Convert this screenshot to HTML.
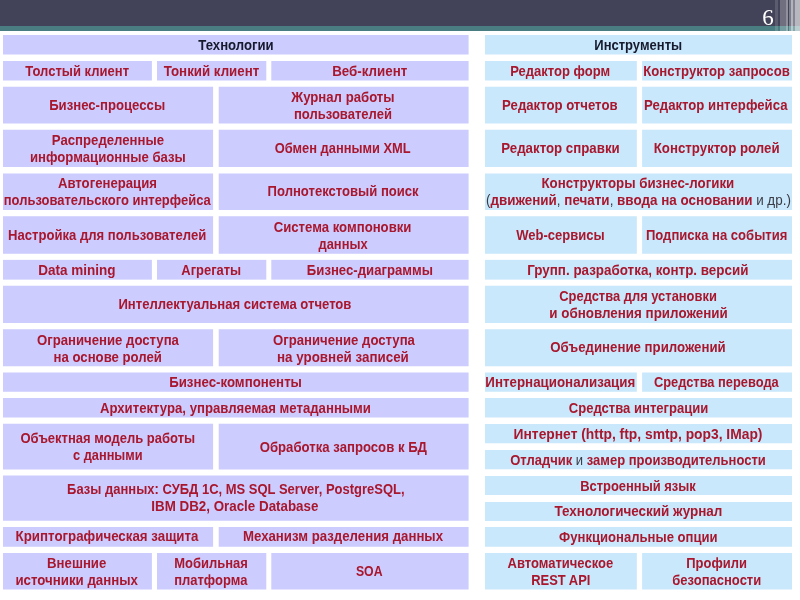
<!DOCTYPE html>
<html lang="ru"><head><meta charset="utf-8"><title>Слайд 6</title>
<style>
html,body{margin:0;padding:0;background:#fff}
body{width:800px;height:600px;position:relative;overflow:hidden;font-family:"Liberation Sans",sans-serif}
#w{position:absolute;left:0;top:0;width:800px;height:600px;will-change:transform}
#top{position:absolute;left:-6px;top:-6px;width:812px;height:32px;background:#424258}
#teal{position:absolute;left:-6px;top:26px;width:812px;height:5px;background:#4a7d82}
.s{position:absolute;top:-6px;height:37px}
#bg{position:absolute;left:0;top:0}
#num{position:absolute;left:755px;top:5px;width:26px;text-align:center;color:#fff;font:23px/26px "Liberation Serif",serif}
.c{position:absolute;display:flex;flex-direction:column;justify-content:center;align-items:center;
   font-weight:bold;font-size:15px;line-height:17px;color:#a8172d;white-space:nowrap;overflow:visible;box-sizing:border-box;padding-bottom:2px}
.c span{display:block;transform-origin:50% 50%}
.c.h{color:#161a2c}
.c i{font-style:normal;font-weight:normal;color:#3a3a44}
</style></head>
<body>
<div id="w">
<div id="top"></div><div id="teal"></div><div class="s" style="left:775px;width:3px;background:rgba(255,255,255,.14)"></div><div class="s" style="left:779.5px;width:6px;background:rgba(255,255,255,.24)"></div><div class="s" style="left:785.5px;width:2.5px;background:rgba(255,255,255,.42)"></div><div class="s" style="left:789px;width:2px;background:rgba(255,255,255,.30)"></div><div class="s" style="left:791px;width:2px;background:rgba(255,255,255,.60)"></div><div class="s" style="left:793px;width:2px;background:rgba(255,255,255,.35)"></div><div class="s" style="left:795px;width:11px;background:rgba(255,255,255,.62)"></div>
<div id="num">6</div>
<svg id="bg" width="800" height="600" viewBox="0 0 800 600"><rect x="3" y="35" width="465.6" height="19.5" fill="#ccccff"/><rect x="3" y="61" width="148.9" height="19.5" fill="#ccccff"/><rect x="157" y="61" width="109.3" height="19.5" fill="#ccccff"/><rect x="271.3" y="61" width="197.3" height="19.5" fill="#ccccff"/><rect x="3" y="86.75" width="210.1" height="36.75" fill="#ccccff"/><rect x="218.7" y="86.75" width="249.9" height="36.75" fill="#ccccff"/><rect x="3" y="129.75" width="210.1" height="37.25" fill="#ccccff"/><rect x="218.7" y="129.75" width="249.9" height="37.25" fill="#ccccff"/><rect x="3" y="173.5" width="210.1" height="36.5" fill="#ccccff"/><rect x="218.7" y="173.5" width="249.9" height="36.5" fill="#ccccff"/><rect x="3" y="216.25" width="210.1" height="37.5" fill="#ccccff"/><rect x="218.7" y="216.25" width="249.9" height="37.5" fill="#ccccff"/><rect x="3" y="259.85" width="148.9" height="19.8" fill="#ccccff"/><rect x="157" y="259.85" width="109.3" height="19.8" fill="#ccccff"/><rect x="271.3" y="259.85" width="197.3" height="19.8" fill="#ccccff"/><rect x="3" y="285.75" width="465.6" height="37.25" fill="#ccccff"/><rect x="3" y="329.25" width="210.1" height="37" fill="#ccccff"/><rect x="218.7" y="329.25" width="249.9" height="37" fill="#ccccff"/><rect x="3" y="372.5" width="465.6" height="19.25" fill="#ccccff"/><rect x="3" y="398" width="465.6" height="19.5" fill="#ccccff"/><rect x="3" y="423.75" width="210.1" height="45.75" fill="#ccccff"/><rect x="218.7" y="423.75" width="249.9" height="45.75" fill="#ccccff"/><rect x="3" y="475.5" width="465.6" height="45.25" fill="#ccccff"/><rect x="3" y="527" width="210.1" height="19.75" fill="#ccccff"/><rect x="218.7" y="527" width="249.9" height="19.75" fill="#ccccff"/><rect x="3" y="553" width="148.9" height="36.5" fill="#ccccff"/><rect x="157" y="553" width="109.3" height="36.5" fill="#ccccff"/><rect x="271.3" y="553" width="197.3" height="36.5" fill="#ccccff"/><rect x="485" y="35" width="307" height="19.5" fill="#c9e8fc"/><rect x="485" y="61" width="151.8" height="19.5" fill="#c9e8fc"/><rect x="642.1" y="61" width="149.9" height="19.5" fill="#c9e8fc"/><rect x="485" y="86.75" width="151.8" height="36.75" fill="#c9e8fc"/><rect x="642.1" y="86.75" width="149.9" height="36.75" fill="#c9e8fc"/><rect x="485" y="129.75" width="151.8" height="37.25" fill="#c9e8fc"/><rect x="642.1" y="129.75" width="149.9" height="37.25" fill="#c9e8fc"/><rect x="485" y="173.5" width="307" height="36.5" fill="#c9e8fc"/><rect x="485" y="216.25" width="151.8" height="37.5" fill="#c9e8fc"/><rect x="642.1" y="216.25" width="149.9" height="37.5" fill="#c9e8fc"/><rect x="485" y="259.85" width="307" height="19.8" fill="#c9e8fc"/><rect x="485" y="285.75" width="307" height="37.25" fill="#c9e8fc"/><rect x="485" y="329.25" width="307" height="37" fill="#c9e8fc"/><rect x="485" y="372.5" width="151.8" height="19.25" fill="#c9e8fc"/><rect x="642.1" y="372.5" width="149.9" height="19.25" fill="#c9e8fc"/><rect x="485" y="398" width="307" height="19.5" fill="#c9e8fc"/><rect x="485" y="424" width="307" height="19.25" fill="#c9e8fc"/><rect x="485" y="450" width="307" height="19.25" fill="#c9e8fc"/><rect x="485" y="476" width="307" height="19" fill="#c9e8fc"/><rect x="485" y="502" width="307" height="19" fill="#c9e8fc"/><rect x="485" y="527" width="307" height="19.75" fill="#c9e8fc"/><rect x="485" y="553" width="151.8" height="36.5" fill="#c9e8fc"/><rect x="642.1" y="553" width="149.9" height="36.5" fill="#c9e8fc"/></svg>
<div class="c h" style="left:3px;top:35px;width:466px;height:19px"><span style="transform:translate(0.03px,1px) scaleX(0.8770)">Технологии</span></div>
<div class="c" style="left:3px;top:61px;width:149px;height:19px"><span style="transform:translate(-0.50px,1px) scaleX(0.8686)">Толстый клиент</span></div>
<div class="c" style="left:157px;top:61px;width:109px;height:19px"><span style="transform:translate(-0.40px,1px) scaleX(0.8867)">Тонкий клиент</span></div>
<div class="c" style="left:271px;top:61px;width:198px;height:19px"><span style="transform:translate(-0.50px,1px) scaleX(0.8895)">Веб-клиент</span></div>
<div class="c" style="left:3px;top:87px;width:210px;height:37px"><span style="transform:translate(-1.00px,0px) scaleX(0.8770)">Бизнес-процессы</span></div>
<div class="c" style="left:219px;top:87px;width:250px;height:37px"><span style="transform:translate(-0.94px,0px) scaleX(0.8775)">Журнал работы</span><span style="transform:translate(-1.46px,0px) scaleX(0.8684)">пользователей</span></div>
<div class="c" style="left:3px;top:130px;width:210px;height:37px"><span style="transform:scaleX(0.8775)">Распределенные</span><span style="transform:scaleX(0.8770)">информационные базы</span></div>
<div class="c" style="left:219px;top:130px;width:250px;height:37px"><span style="transform:translate(-1.46px,0px) scaleX(0.8584)">Обмен данными XML</span></div>
<div class="c" style="left:3px;top:174px;width:210px;height:36px"><span style="transform:translate(-1.00px,0px) scaleX(0.8770)">Автогенерация</span><span style="transform:translate(-0.44px,0px) scaleX(0.8649)">пользовательского интерфейса</span></div>
<div class="c" style="left:219px;top:174px;width:250px;height:36px"><span style="transform:translate(-0.53px,-1px) scaleX(0.8717)">Полнотекстовый поиск</span></div>
<div class="c" style="left:3px;top:216px;width:210px;height:38px"><span style="transform:translate(-0.50px,0px) scaleX(0.8726)">Настройка для пользователей</span></div>
<div class="c" style="left:219px;top:216px;width:250px;height:38px"><span style="transform:translate(-1.00px,1px) scaleX(0.8770)">Система компоновки</span><span style="transform:translate(-0.50px,1px) scaleX(0.8595)">данных</span></div>
<div class="c" style="left:3px;top:260px;width:149px;height:20px"><span style="transform:translate(-1.00px,0px) scaleX(0.9002)">Data mining</span></div>
<div class="c" style="left:157px;top:260px;width:109px;height:20px"><span style="transform:translate(-0.44px,0px) scaleX(0.8641)">Агрегаты</span></div>
<div class="c" style="left:271px;top:260px;width:198px;height:20px"><span style="transform:scaleX(0.8770)">Бизнес-диаграммы</span></div>
<div class="c" style="left:3px;top:286px;width:466px;height:37px"><span style="transform:translate(-1.50px,0px) scaleX(0.8732)">Интеллектуальная система отчетов</span></div>
<div class="c" style="left:3px;top:329px;width:210px;height:37px"><span style="transform:translate(0.03px,1px) scaleX(0.8769)">Ограничение доступа</span><span style="transform:translate(0.00px,1px) scaleX(0.8778)">на основе ролей</span></div>
<div class="c" style="left:219px;top:329px;width:250px;height:37px"><span style="transform:translate(0.03px,1px) scaleX(0.8769)">Ограничение доступа</span><span style="transform:translate(-1.00px,1px) scaleX(0.8912)">на уровней записей</span></div>
<div class="c" style="left:3px;top:372px;width:466px;height:20px"><span style="transform:translate(-0.54px,0px) scaleX(0.8838)">Бизнес-компоненты</span></div>
<div class="c" style="left:3px;top:398px;width:466px;height:20px"><span style="transform:translate(-1.00px,0px) scaleX(0.8775)">Архитектура, управляемая метаданными</span></div>
<div class="c" style="left:3px;top:424px;width:210px;height:46px"><span style="transform:scaleX(0.8670)">Объектная модель работы</span><span style="transform:scaleX(0.8528)">с данными</span></div>
<div class="c" style="left:219px;top:424px;width:250px;height:46px"><span style="transform:translate(-1.00px,0px) scaleX(0.8770)">Обработка запросов к БД</span></div>
<div class="c" style="left:3px;top:476px;width:466px;height:45px"><span style="transform:translate(0.04px,-1px) scaleX(0.8662)">Базы данных: СУБД 1С, MS SQL Server, PostgreSQL,</span><span style="transform:translate(-0.94px,-1px) scaleX(0.8910)">IBM DB2, Oracle Database</span></div>
<div class="c" style="left:3px;top:527px;width:210px;height:20px"><span style="transform:translate(-1.06px,-1px) scaleX(0.8872)">Криптографическая защита</span></div>
<div class="c" style="left:219px;top:527px;width:250px;height:20px"><span style="transform:translate(-1.50px,-1px) scaleX(0.8814)">Механизм разделения данных</span></div>
<div class="c" style="left:3px;top:553px;width:149px;height:37px"><span style="transform:translate(-1.00px,0px) scaleX(0.8779)">Внешние</span><span style="transform:translate(-0.55px,0px) scaleX(0.8844)">источники данных</span></div>
<div class="c" style="left:157px;top:553px;width:109px;height:37px"><span style="transform:translate(-0.50px,0px) scaleX(0.8656)">Мобильная</span><span style="transform:translate(-0.50px,0px) scaleX(0.8657)">платформа</span></div>
<div class="c" style="left:271px;top:553px;width:198px;height:37px"><span style="transform:translate(-1.04px,0px) scaleX(0.8189)">SOA</span></div>
<div class="c h" style="left:485px;top:35px;width:307px;height:19px"><span style="transform:translate(-0.44px,1px) scaleX(0.8669)">Инструменты</span></div>
<div class="c" style="left:485px;top:61px;width:152px;height:19px"><span style="transform:translate(-0.46px,1px) scaleX(0.8682)">Редактор форм</span></div>
<div class="c" style="left:642px;top:61px;width:150px;height:19px"><span style="transform:translate(0.00px,1px) scaleX(0.8770)">Конструктор запросов</span></div>
<div class="c" style="left:485px;top:87px;width:152px;height:37px"><span style="transform:translate(-0.94px,0px) scaleX(0.8775)">Редактор отчетов</span></div>
<div class="c" style="left:642px;top:87px;width:150px;height:37px"><span style="transform:translate(-1.00px,0px) scaleX(0.8774)">Редактор интерфейса</span></div>
<div class="c" style="left:485px;top:130px;width:152px;height:37px"><span style="transform:translate(-0.44px,0px) scaleX(0.8846)">Редактор справки</span></div>
<div class="c" style="left:642px;top:130px;width:150px;height:37px"><span style="transform:translate(-0.50px,0px) scaleX(0.8841)">Конструктор ролей</span></div>
<div class="c" style="left:485px;top:174px;width:307px;height:36px"><span style="transform:translate(-0.94px,0px) scaleX(0.8866)">Конструкторы бизнес-логики</span><span style="transform:scaleX(0.8948)"><i>(</i>движений<i>,</i> печати<i>,</i> ввода на основании <i>и др.)</i></span></div>
<div class="c" style="left:485px;top:216px;width:152px;height:38px"><span style="transform:translate(-0.50px,0px) scaleX(0.8681)">Web-сервисы</span></div>
<div class="c" style="left:642px;top:216px;width:150px;height:38px"><span style="transform:translate(-0.56px,0px) scaleX(0.8712)">Подписка на события</span></div>
<div class="c" style="left:485px;top:260px;width:307px;height:20px"><span style="transform:translate(-1.00px,0px) scaleX(0.8932)">Групп. разработка, контр. версий</span></div>
<div class="c" style="left:485px;top:286px;width:307px;height:37px"><span style="transform:translate(-0.46px,0px) scaleX(0.8609)">Средства для установки</span><span style="transform:translate(-0.50px,0px) scaleX(0.8921)">и обновления приложений</span></div>
<div class="c" style="left:485px;top:329px;width:307px;height:37px"><span style="transform:translate(-0.50px,0px) scaleX(0.8821)">Объединение приложений</span></div>
<div class="c" style="left:485px;top:372px;width:152px;height:20px"><span style="transform:translate(-1.00px,0px) scaleX(0.8890)">Интернационализация</span></div>
<div class="c" style="left:642px;top:372px;width:150px;height:20px"><span style="transform:translate(-0.50px,0px) scaleX(0.8564)">Средства перевода</span></div>
<div class="c" style="left:485px;top:398px;width:307px;height:20px"><span style="transform:translate(0.46px,0px) scaleX(0.8712)">Средства интеграции</span></div>
<div class="c" style="left:485px;top:424px;width:307px;height:19px"><span style="transform:translate(0.00px,1px) scaleX(0.9216)">Интернет (http, ftp, smtp, pop3, IMap)</span></div>
<div class="c" style="left:485px;top:450px;width:307px;height:19px"><span style="transform:translate(-0.50px,1px) scaleX(0.8668)">Отладчик <i>и</i> замер производительности</span></div>
<div class="c" style="left:485px;top:476px;width:307px;height:19px"><span style="transform:translate(-0.04px,1px) scaleX(0.8625)">Встроенный язык</span></div>
<div class="c" style="left:485px;top:502px;width:307px;height:19px"><span style="transform:scaleX(0.8985)">Технологический журнал</span></div>
<div class="c" style="left:485px;top:527px;width:307px;height:20px"><span style="transform:translate(-0.55px,0px) scaleX(0.8718)">Функциональные опции</span></div>
<div class="c" style="left:485px;top:553px;width:152px;height:37px"><span style="transform:translate(-0.54px,0px) scaleX(0.8683)">Автоматическое</span><span style="transform:translate(-0.55px,0px) scaleX(0.8627)">REST API</span></div>
<div class="c" style="left:642px;top:553px;width:150px;height:37px"><span style="transform:translate(-0.50px,0px) scaleX(0.8628)">Профили</span><span style="transform:translate(-0.50px,0px) scaleX(0.8675)">безопасности</span></div>
</div>
</body></html>
